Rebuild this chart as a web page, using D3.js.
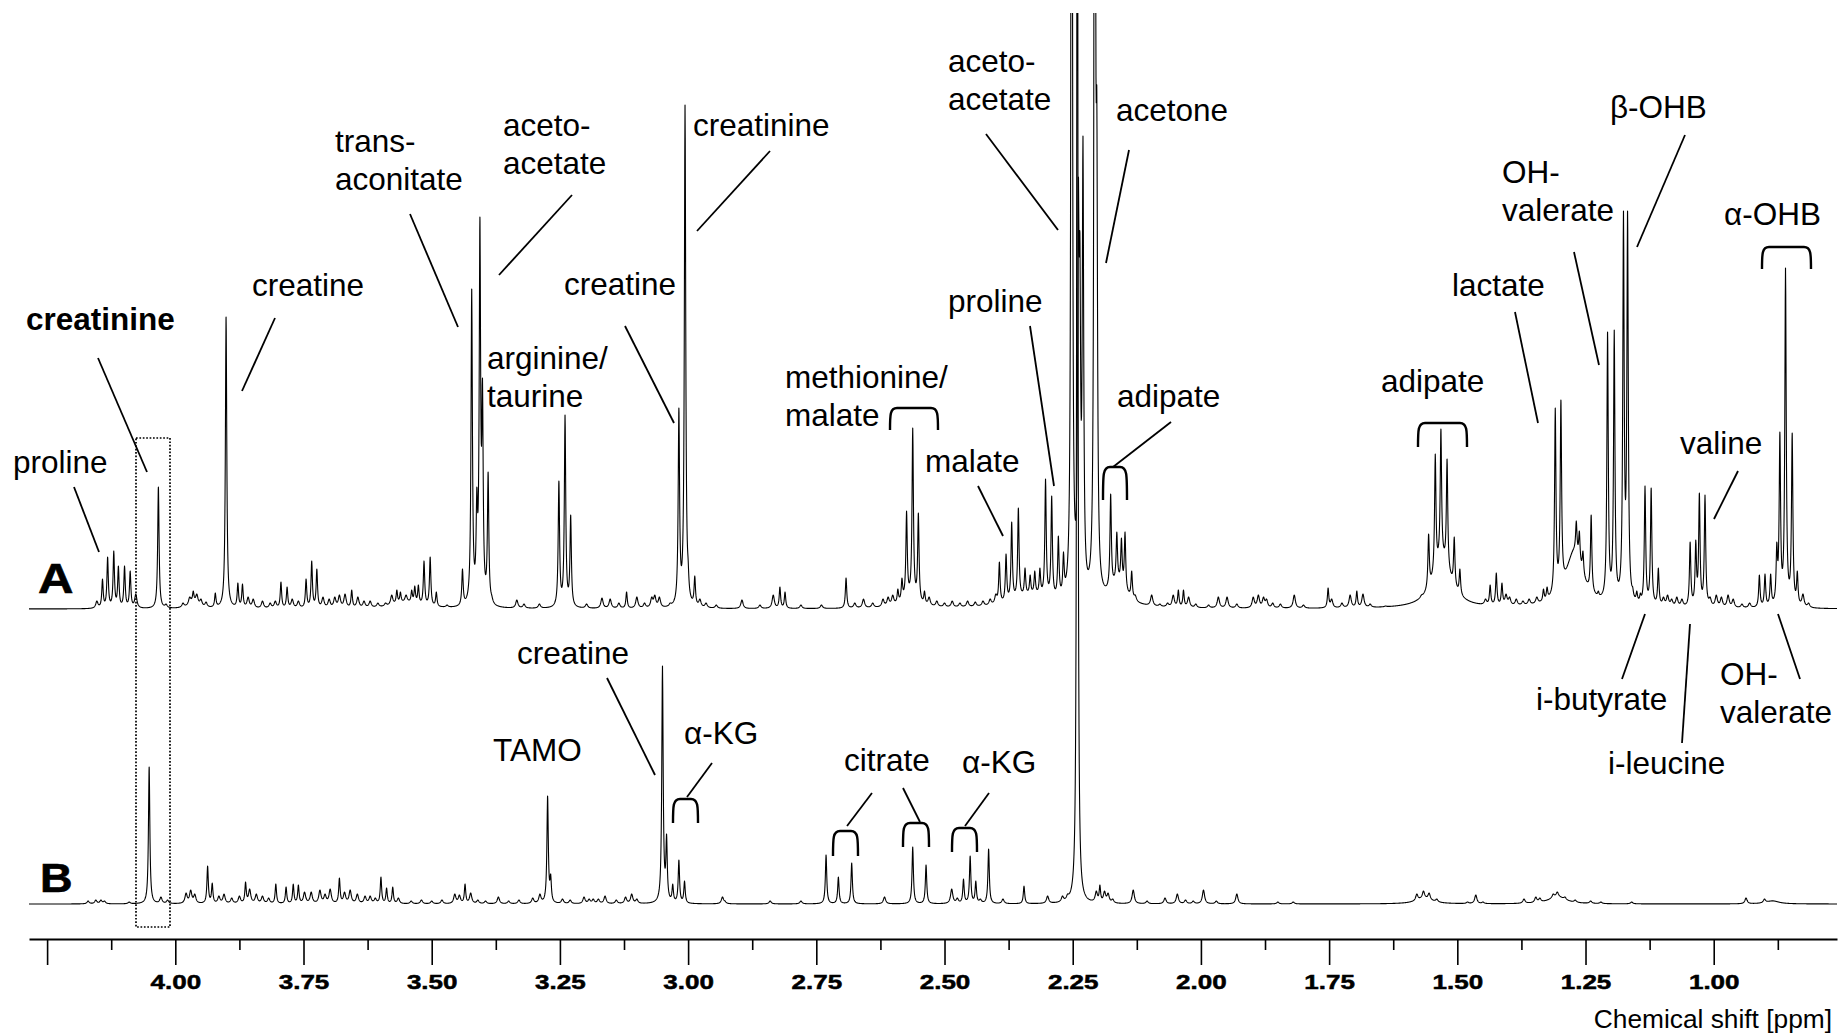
<!DOCTYPE html>
<html>
<head>
<meta charset="utf-8">
<script src="https://cdn.jsdelivr.net/npm/d3@7"></script>
<style>
  body { margin: 0; background: #fff; }
  svg { display: block; }
  text { font-family: "Liberation Sans", Arial, Helvetica, sans-serif; fill: #000; }
</style>
</head>
<body>
<svg id="chart" width="1841" height="1035"></svg>
<script>
// ---- Peak tables: [chemical shift (ppm), observed height (a.u.), optional half-width (ppm)] ----
// Entries with a half-width of 0.008 ppm or more are broad background humps.
// Spectrum A
const peaksA = [
  [4.153,8],[4.142,30],[4.132,52],[4.120,58],[4.111,43],[4.099,43],[4.088,38],[4.077,15],
  [4.033,122],[4.018,5],
  [3.985,6],[3.972,12],[3.965,18],[3.958,15],[3.950,10],[3.940,7],[3.922,16],[3.965,6,0.01],
  [3.901,292],
  [3.878,26],[3.869,25],[3.858,12],[3.848,10],[3.830,8],[3.815,6],[3.805,8],[3.794,27],[3.782,22],
  [3.772,10],[3.760,8],[3.745,30],[3.734,48],[3.724,40],[3.712,12],[3.700,10],[3.689,12],[3.680,14],
  [3.669,15],[3.656,19],[3.644,12],[3.632,8],[3.620,8],[3.605,6],[3.590,6],[3.578,14],[3.568,19],
  [3.561,17],[3.550,14],[3.539,19],[3.533,23],[3.526,24],[3.515,48],[3.503,52],[3.491,17],[3.470,4],
  [3.55,6,0.03],
  [3.440,40],[3.422,320],[3.412,122],[3.406,392],[3.401,231],[3.390,137],[3.383,14],
  [3.334,9],[3.320,5],[3.290,5],
  [3.252,128],[3.240,194],[3.229,94],
  [3.198,5],[3.168,11],[3.152,10],[3.135,6],[3.120,17],[3.100,12],[3.085,6],[3.071,12],[3.065,14],
  [3.056,12],[3.035,6],
  [3.018,201],[3.012,30],[3.006,504],[3.000,50],[2.987,33],[2.977,10],[2.965,6],[2.945,4],
  [2.895,9],[2.860,4],[2.834,14],[2.821,22],[2.811,17],[2.780,4],[2.740,4],
  [2.692,31],[2.675,6],[2.658,10],[2.640,6],[2.620,10],[2.610,12],[2.601,14],[2.591,20],[2.583,31],
  [2.574,98],[2.562,181],[2.551,96],[2.539,18],[2.530,12],[2.57,8,0.02],
  [2.515,8],[2.500,6],[2.485,8],[2.470,6],[2.455,8],[2.440,7],[2.425,8],[2.411,10],[2.400,15],
  [2.393,47],[2.380,55],[2.369,87],[2.356,101],[2.343,41],[2.333,34],[2.324,38],[2.314,41],
  [2.303,130],[2.291,113],[2.278,73],[2.268,57],[2.33,12,0.04],
  [2.252,2000,0.0011],[2.239,432],[2.236,376],[2.230,473],[2.207,2000,0.0011],[2.203,518],
  [2.194,34],[2.186,22],[2.176,115],[2.164,77],[2.155,71],[2.148,77],[2.135,38],[2.128,14],
  [2.162,22,0.02],
  [2.115,5],[2.096,14],[2.080,5],[2.065,6],[2.054,14],[2.044,19],[2.034,19],[2.024,12],[2.010,5],
  [1.985,4],[1.966,12],[1.949,12],[1.930,5],[1.898,12],[1.888,14],[1.878,12],[1.872,10],[1.860,6],
  [1.845,5],[1.818,14],[1.800,4],[1.752,21],[1.745,10],[1.725,6],[1.709,14],[1.696,18],[1.684,15],
  [1.670,5],[1.640,3],[1.600,3],[1.585,5],
  [1.530,45,0.022],[1.570,14],[1.556,75],[1.543,155],[1.532,180],[1.520,150],[1.506,72],[1.495,40],
  [1.470,6],[1.445,10],[1.436,24],[1.424,36],[1.413,26],[1.405,15],[1.398,12],[1.385,10],[1.372,8],
  [1.360,10],[1.345,12],[1.332,20],[1.325,22],
  [1.309,201],[1.298,209],
  [1.272,55,0.02],[1.268,88],[1.262,78],[1.255,58],
  [1.239,94],[1.225,18],
  [1.207,277],[1.194,279],[1.176,398],[1.168,398],
  [1.158,22],[1.150,18],[1.143,16],[1.134,123],[1.122,121],[1.108,41],[1.098,12],[1.090,14],
  [1.082,10],[1.072,12],[1.062,10],
  [1.046,67],[1.035,69],[1.028,116],[1.017,114],
  [1.007,12],[0.995,14],[0.985,12],[0.972,14],[0.962,10],[0.945,5],[0.930,6],
  [0.911,34],[0.900,35],[0.889,35],[0.877,67],[0.871,177],[0.860,341],[0.847,176],[0.837,38],
  [0.826,15],[0.815,6]
];

// Spectrum B
const peaksB = [
  [4.170,3],[4.155,4],[4.145,4],[4.138,3],[4.090,2],
  [4.051,137],[4.028,7],[4.015,4],
  [3.979,11],[3.970,14],[3.962,10],[3.937,38],[3.928,21],[3.915,8],[3.905,10],[3.890,6],[3.875,8],
  [3.863,22],[3.855,15],[3.842,10],[3.830,8],[3.818,6],[3.804,20],[3.784,17],[3.770,20],[3.760,19],
  [3.748,12],[3.735,12],[3.718,14],[3.708,10],[3.698,15],[3.680,26],[3.670,12],[3.659,14],[3.645,10],
  [3.630,8],[3.620,8],[3.610,6],[3.599,27],[3.588,16],[3.576,17],[3.565,6],[3.540,3],[3.520,4],
  [3.500,3],[3.480,4],[3.455,10],[3.446,9],[3.435,20],[3.424,11],[3.410,4],[3.395,3],[3.370,7],
  [3.350,3],[3.330,4],[3.303,6],[3.289,10],[3.277,22],[3.274,108],[3.268,30],[3.245,5],[3.230,4],
  [3.203,7],[3.193,5],[3.185,5],[3.175,5],[3.162,8],[3.140,4],[3.122,7],[3.110,10],[3.100,5],
  [3.050,238],[3.042,70],[3.030,20],[3.018,44],[3.007,23],
  [2.933,7],[2.928,3],[2.840,3],[2.780,3],
  [2.731,49],[2.707,27],[2.681,41],[2.617,7],
  [2.562,57],[2.536,39],[2.486,15],[2.475,6],[2.463,25],[2.450,48],[2.439,23],[2.430,5],[2.414,55],
  [2.386,5],[2.345,18],[2.299,8],[2.270,8],[2.260,10],
  [2.241,1500,0.0012],
  [2.204,13],[2.197,19],[2.188,13],[2.181,11],[2.172,5],[2.132,14],[2.105,3],[2.070,6],[2.046,10],
  [2.030,4],[2.015,3],[1.995,14],[1.970,3],[1.930,10],[1.850,2],[1.820,2],
  [1.565,5,0.02],[1.579,10],[1.566,13],[1.555,11],[1.540,5],[1.480,2],[1.464,9],[1.450,2],
  [1.370,5],[1.347,7],[1.339,6],
  [1.305,7,0.02],[1.313,10],[1.305,12],[1.290,7],[1.270,4],[1.240,3],[1.220,2],[1.160,2],
  [0.937,6],[0.901,5],[0.885,3,0.015]
];

// Axis ticks (ppm)
const majorTicks = [4.25, 4.00, 3.75, 3.50, 3.25, 3.00, 2.75, 2.50, 2.25, 2.00, 1.75, 1.50, 1.25, 1.00];
const minorTicks = [4.125, 3.875, 3.625, 3.375, 3.125, 2.875, 2.625, 2.375, 2.125, 1.875, 1.625, 1.375, 1.125, 0.875];
const tickLabels = ["", "4.00", "3.75", "3.50", "3.25", "3.00", "2.75", "2.50", "2.25", "2.00", "1.75", "1.50", "1.25", "1.00"];

// ---- Layout ----
const H = 1035;
const plotLeft = 29, plotRight = 1837, plotTop = 13, axisY = 939;
const svg = d3.select("#chart");

const x = d3.scaleLinear().domain([4.2853, 0.7596]).range([plotLeft, plotRight]);
const yA = d3.scaleLinear().domain([0, 600]).range([609, 9]);
const yB = d3.scaleLinear().domain([0, 600]).range([904, 304]);

const BROAD = 0.008;
const lor = (c, w, at) => { const d = (at - c) / w; return 1 / (1 + d * d); };

function withWidths(peaks) {
  return peaks.map(p => [p[0], p[1], p[2] !== undefined ? p[2] : (p[1] < 16 ? 0.0026 : 0.0016)]);
}

// Turn observed heights into Lorentzian amplitudes so that the summed
// line reaches each listed height at its own shift.
function amplitudes(peaks) {
  const pk = withWidths(peaks);
  const broad = pk.filter(p => p[2] >= BROAD);
  const narrow = pk.filter(p => p[2] < BROAD);
  const bg = narrow.map(p => broad.reduce((s, b) => s + b[1] * lor(b[0], b[2], p[0]), 0));
  let amp = narrow.map(p => p[1]);
  for (let it = 0; it < 40; it++) {
    amp = narrow.map((p, i) => {
      let s = bg[i];
      for (let j = 0; j < narrow.length; j++) {
        if (j !== i) s += amp[j] * lor(narrow[j][0], narrow[j][2], p[0]);
      }
      return Math.max(0, p[1] - s);
    });
  }
  return broad.concat(narrow.map((p, i) => [p[0], amp[i], p[2]]));
}

// Sample the line shape on a fine grid plus every peak apex
function spectrum(peaks) {
  const pk = amplitudes(peaks);
  const grid = d3.range(plotLeft, plotRight + 0.001, 0.25).map(px => x.invert(px));
  pk.forEach(p => grid.push(p[0]));
  grid.sort((a, b) => b - a);
  return grid.map(ppm => {
    let s = 0;
    for (let i = 0; i < pk.length; i++) s += pk[i][1] * lor(pk[i][0], pk[i][2], ppm);
    return [ppm, s];
  });
}

svg.append("defs").append("clipPath").attr("id", "plotClip")
  .append("rect").attr("x", plotLeft).attr("y", plotTop)
  .attr("width", plotRight - plotLeft).attr("height", H - plotTop);

const gSpec = svg.append("g").attr("clip-path", "url(#plotClip)");
const lineA = d3.line().x(d => x(d[0])).y(d => yA(d[1]));
const lineB = d3.line().x(d => x(d[0])).y(d => yB(d[1]));

gSpec.append("path").datum(spectrum(peaksA)).attr("d", lineA)
  .attr("fill", "none").attr("stroke", "#000").attr("stroke-width", 1.1).attr("stroke-linejoin", "round");
gSpec.append("path").datum(spectrum(peaksB)).attr("d", lineB)
  .attr("fill", "none").attr("stroke", "#000").attr("stroke-width", 1.1).attr("stroke-linejoin", "round");

// ---- Axis ----
const gMinor = svg.append("g").attr("transform", `translate(0,${axisY})`)
  .call(d3.axisBottom(x).tickValues(minorTicks).tickSize(11).tickSizeOuter(0).tickFormat(""));
gMinor.select(".domain").remove();
const gMajor = svg.append("g").attr("transform", `translate(0,${axisY})`)
  .call(d3.axisBottom(x).tickValues(majorTicks).tickSize(26).tickSizeOuter(0)
    .tickFormat((d, i) => tickLabels[i]));
svg.selectAll(".domain").attr("stroke-width", 1.8).attr("stroke", "#000");
svg.selectAll(".tick line").attr("stroke-width", 1.6).attr("stroke", "#000");
gMajor.selectAll(".tick text")
  .attr("y", 50).attr("dy", 0)
  .attr("transform", "scale(1.3,1)")
  .attr("fill", "#000").attr("stroke", "#000").attr("stroke-width", 0.5)
  .style("font-family", "'Liberation Sans', Arial, sans-serif")
  .style("font-size", "20px").style("font-weight", "bold");

svg.append("text").attr("x", 1832).attr("y", 1028).attr("text-anchor", "end")
  .style("font-size", "26.3px").text("Chemical shift [ppm]");

// ---- Spectrum tags ----
svg.append("text").attr("transform", "translate(38,593) scale(1.17,1)")
  .attr("stroke", "#000").attr("stroke-width", 0.6)
  .style("font-size", "42px").style("font-weight", "bold").text("A");
svg.append("text").attr("transform", "translate(40,892) scale(1.1,1)")
  .attr("stroke", "#000").attr("stroke-width", 0.6)
  .style("font-size", "41px").style("font-weight", "bold").text("B");

// ---- Highlight box around the creatinine CH2 signal ----
svg.append("rect").attr("x", 136).attr("y", 438).attr("width", 34).attr("height", 489)
  .attr("fill", "none").attr("stroke", "#000").attr("stroke-width", 1.7)
  .attr("stroke-dasharray", "1.7,1.7");

// ---- Metabolite labels ----
const labels = [
  { lines: ["creatinine"], x: 26, y: 330, bold: true },
  { lines: ["proline"], x: 13, y: 473 },
  { lines: ["creatine"], x: 252, y: 296 },
  { lines: ["trans-", "aconitate"], x: 335, y: 152 },
  { lines: ["aceto-", "acetate"], x: 503, y: 136 },
  { lines: ["arginine/", "taurine"], x: 487, y: 369 },
  { lines: ["creatine"], x: 564, y: 295 },
  { lines: ["creatinine"], x: 693, y: 136 },
  { lines: ["methionine/", "malate"], x: 785, y: 388 },
  { lines: ["malate"], x: 925, y: 472 },
  { lines: ["proline"], x: 948, y: 312 },
  { lines: ["aceto-", "acetate"], x: 948, y: 72 },
  { lines: ["acetone"], x: 1116, y: 121 },
  { lines: ["adipate"], x: 1117, y: 407 },
  { lines: ["adipate"], x: 1381, y: 392 },
  { lines: ["lactate"], x: 1452, y: 296 },
  { lines: ["OH-", "valerate"], x: 1502, y: 183 },
  { lines: ["β-OHB"], x: 1610, y: 118 },
  { lines: ["α-OHB"], x: 1724, y: 225 },
  { lines: ["valine"], x: 1680, y: 454 },
  { lines: ["i-butyrate"], x: 1536, y: 710 },
  { lines: ["i-leucine"], x: 1608, y: 774 },
  { lines: ["OH-", "valerate"], x: 1720, y: 685 },
  { lines: ["creatine"], x: 517, y: 664 },
  { lines: ["TAMO"], x: 493, y: 761 },
  { lines: ["α-KG"], x: 684, y: 744 },
  { lines: ["citrate"], x: 844, y: 771 },
  { lines: ["α-KG"], x: 962, y: 773 }
];
const lineGap = 37.5;
const gLab = svg.append("g").style("font-size", "31.5px");
labels.forEach(l => {
  const t = gLab.append("text").attr("x", l.x).attr("y", l.y)
    .style("font-weight", l.bold ? "bold" : "normal");
  l.lines.forEach((s, i) => {
    t.append("tspan").attr("x", l.x).attr("y", l.y + i * lineGap).text(s);
  });
});

// Leader lines from labels to signals
const leaders = [
  [98,358,147,472],[74,487,99,552],[275,318,242,391],[410,214,458,327],[572,195,499,275],
  [625,326,674,423],[770,151,697,231],[986,134,1058,230],[1129,150,1106,263],[1030,326,1054,486],
  [978,486,1003,536],[1171,422,1113,467],[1515,312,1538,423],[1574,252,1599,365],[1685,135,1637,247],
  [1738,471,1714,519],[1645,614,1622,679],[1690,624,1682,743],[1778,614,1800,679],
  [607,678,655,775],[687,797,712,763],[847,826,872,793],[920,822,903,788],[965,826,989,793]
];
svg.append("g").selectAll("line").data(leaders).join("line")
  .attr("x1", d => d[0]).attr("y1", d => d[1]).attr("x2", d => d[2]).attr("y2", d => d[3])
  .attr("stroke", "#000").attr("stroke-width", 1.8);

// Multiplet brackets: [left, right, top, bottom]
const brackets = [
  [890,938,408,430],[1103,1127,467,500],[1418,1467,423,447],[1762,1811,247,269],
  [673,698,799,823],[833,858,831,856],[903,929,823,847],[952,977,828,852]
];
const r = 7;
svg.append("g").selectAll("path").data(brackets).join("path")
  .attr("d", ([x1, x2, yt, yb]) =>
    `M${x1},${yb} C${x1},${yt + r} ${x1},${yt} ${x1 + r},${yt} L${x2 - r},${yt} C${x2},${yt} ${x2},${yt + r} ${x2},${yb}`)
  .attr("fill", "none").attr("stroke", "#000").attr("stroke-width", 2.4);
</script>
</body>
</html>
